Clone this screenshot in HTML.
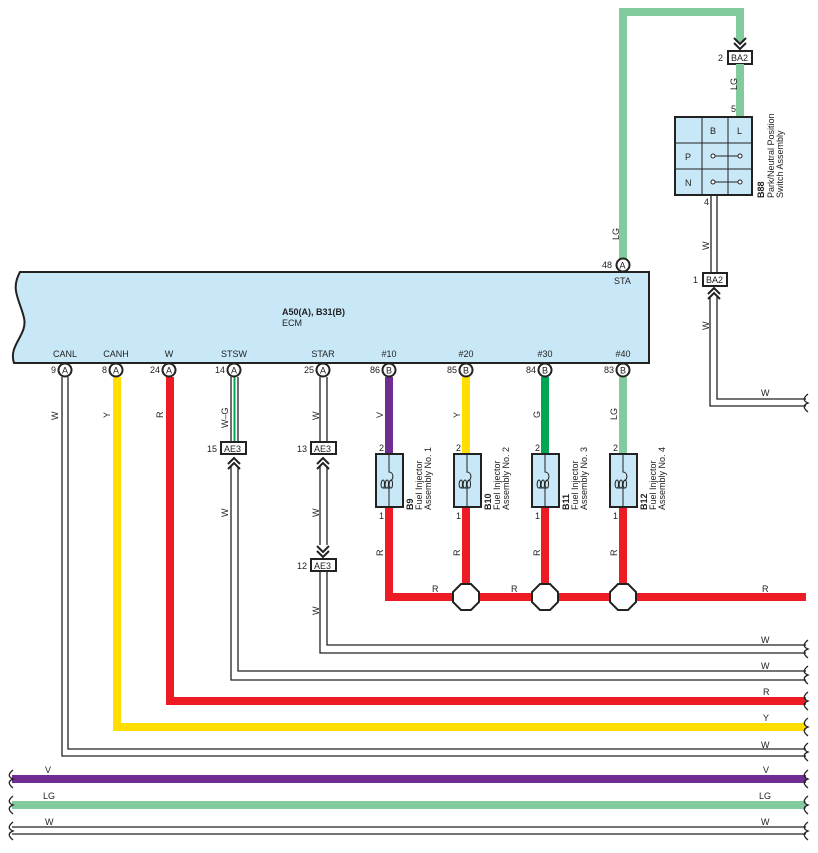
<!DOCTYPE html>
<html><head><meta charset="utf-8"><style>
html,body{margin:0;padding:0;background:#fff;}
svg{display:block;font-family:"Liberation Sans",Arial,sans-serif;}
text{font-size:9px;fill:#222;}
</style></head><body>
<svg width="818" height="853" viewBox="0 0 818 853" xmlns="http://www.w3.org/2000/svg">
<defs>
<g id="chevU"><polyline points="-6,6 0,0 6,6" fill="none" stroke="#222" stroke-width="2"/><polyline points="-6,11 0,5 6,11" fill="none" stroke="#222" stroke-width="2"/></g>
<g id="chevD"><polyline points="-6,-6 0,0 6,-6" fill="none" stroke="#222" stroke-width="2"/><polyline points="-6,-11 0,-5 6,-11" fill="none" stroke="#222" stroke-width="2"/></g>
<g id="brace"><path d="M0,-9 C-5,-5 -5,-2 0,0 C-5,2 -5,5 0,9" fill="none" stroke="#222" stroke-width="1.3"/></g>
<g id="inj"><rect x="-13" y="0" width="27" height="53" fill="#c8e8f8" stroke="#222" stroke-width="2"/>
<path d="M0,0 V18 C5,18 5,26 1,27 M0,35 V53" fill="none" stroke="#222" stroke-width="1"/>
<path d="M-6,34 C-9,34 -8,26 -6,26 C-4,26 -4,34 -6,34 M-6,34 L-2,34 C-5,34 -4,26 -2,26 C0,26 0,34 -2,34 L2,34 C-1,34 0,26 2,26 C4,26 4,34 2,34 L0,34 V35" fill="none" stroke="#222" stroke-width="1"/>
</g>
</defs>

<!-- top LG wire -->
<path d="M623,262 V12 H740 V42" fill="none" stroke="#82cb9c" stroke-width="8"/>
<use href="#chevD" x="740" y="49"/>
<rect x="728" y="51" width="24" height="13" fill="#fff" stroke="#222" stroke-width="2"/>
<text x="731" y="61">BA2</text><text x="718" y="61">2</text>
<path d="M740,64 V117" stroke="#82cb9c" stroke-width="8"/>
<text transform="translate(737,90) rotate(-90)">LG</text>
<text x="731" y="112">5</text>
<text transform="translate(619,240) rotate(-90)">LG</text>

<!-- switch -->
<rect x="675" y="117" width="77" height="78" fill="#c8e8f8" stroke="#222" stroke-width="2"/>
<path d="M702,117V195M728,117V195M675,143H752M675,169H752" stroke="#222" stroke-width="1"/>
<text x="710" y="134">B</text><text x="737" y="134">L</text><text x="685" y="160">P</text><text x="685" y="186">N</text>
<path d="M713,156H740M713,182H740" stroke="#222"/>
<circle cx="713" cy="156" r="2" fill="#fff" stroke="#222"/><circle cx="740" cy="156" r="2" fill="#fff" stroke="#222"/>
<circle cx="713" cy="182" r="2" fill="#fff" stroke="#222"/><circle cx="740" cy="182" r="2" fill="#fff" stroke="#222"/>
<text transform="translate(764,198) rotate(-90)" font-weight="bold">B88</text>
<text transform="translate(774,198) rotate(-90)">Park/Neutral Position</text>
<text transform="translate(783,198) rotate(-90)">Switch Assembly</text>
<path d="M711,195V273M717,195V273" stroke="#222" stroke-width="1.3"/>
<text x="704" y="205">4</text>
<text transform="translate(709,250) rotate(-90)">W</text>
<rect x="703" y="273" width="24" height="13" fill="#fff" stroke="#222" stroke-width="2"/>
<text x="706" y="283">BA2</text><text x="693" y="283">1</text>
<use href="#chevU" x="714" y="288"/>
<path d="M710,296V406H806M717,296V399H806" fill="none" stroke="#222" stroke-width="1.3"/>
<text transform="translate(709,330) rotate(-90)">W</text>
<text x="761" y="396">W</text>

<!-- ECM -->
<path d="M20,272 H649 V363 H14 C8,345 28,335 24,318 C20,300 10,290 20,272 Z" fill="#c8e8f8" stroke="#222" stroke-width="2"/>
<text x="282" y="315" font-weight="bold">A50(A), B31(B)</text>
<text x="282" y="326">ECM</text>
<text x="614" y="284">STA</text>
<circle cx="623" cy="265" r="6.5" fill="#fff" stroke="#222" stroke-width="2"/><text x="619.5" y="268.5">A</text><text x="602" y="268">48</text>
<g text-anchor="middle">
<text x="65" y="357">CANL</text><text x="116" y="357">CANH</text><text x="169" y="357">W</text><text x="234" y="357">STSW</text><text x="323" y="357">STAR</text><text x="389" y="357">#10</text><text x="466" y="357">#20</text><text x="545" y="357">#30</text><text x="623" y="357">#40</text>
</g>

<!-- bottom wires -->
<path d="M62,377V756H806M68,377V749H806" fill="none" stroke="#222" stroke-width="1.3"/>
<path d="M117,377V727H806" fill="none" stroke="#ffde00" stroke-width="8"/>
<path d="M170,377V701H806" fill="none" stroke="#ed1c24" stroke-width="8"/>
<path d="M231,377V442M238,377V442" stroke="#222" stroke-width="1.3"/><path d="M234.5,377V442" stroke="#00a651" stroke-width="2"/>
<path d="M231,466V680H806M238,466V671H806" fill="none" stroke="#222" stroke-width="1.3"/>
<path d="M320,377V442M327,377V442M320,466V545M327,466V545" stroke="#222" stroke-width="1.3"/>
<path d="M320,571V653H806M327,571V645H806" fill="none" stroke="#222" stroke-width="1.3"/>
<rect x="221" y="442" width="25" height="12" fill="#fff" stroke="#222" stroke-width="2"/><text x="224" y="452">AE3</text><text x="207" y="452">15</text>
<use href="#chevU" x="234" y="458"/>
<rect x="311" y="442" width="25" height="12" fill="#fff" stroke="#222" stroke-width="2"/><text x="314" y="452">AE3</text><text x="297" y="452">13</text>
<use href="#chevU" x="323" y="458"/>
<use href="#chevD" x="323" y="557"/>
<rect x="311" y="559" width="25" height="12" fill="#fff" stroke="#222" stroke-width="2"/><text x="314" y="569">AE3</text><text x="297" y="569">12</text>

<g>
<text transform="translate(58,420) rotate(-90)">W</text>
<text transform="translate(110,418) rotate(-90)">Y</text>
<text transform="translate(163,418) rotate(-90)">R</text>
<text transform="translate(228,428) rotate(-90)">W–G</text>
<text transform="translate(228,517) rotate(-90)">W</text>
<text transform="translate(319,420) rotate(-90)">W</text>
<text transform="translate(319,517) rotate(-90)">W</text>
<text transform="translate(319,615) rotate(-90)">W</text>
<text transform="translate(383,418) rotate(-90)">V</text>
<text transform="translate(460,418) rotate(-90)">Y</text>
<text transform="translate(540,418) rotate(-90)">G</text>
<text transform="translate(617,420) rotate(-90)">LG</text>
<text transform="translate(383,556) rotate(-90)">R</text>
<text transform="translate(460,556) rotate(-90)">R</text>
<text transform="translate(540,556) rotate(-90)">R</text>
<text transform="translate(617,556) rotate(-90)">R</text>
</g>

<!-- injectors -->
<path d="M389,377V454" stroke="#6f2c91" stroke-width="8"/>
<path d="M466,377V454" stroke="#ffde00" stroke-width="8"/>
<path d="M545,377V454" stroke="#00a651" stroke-width="8"/>
<path d="M623,377V454" stroke="#82cb9c" stroke-width="8"/>
<path d="M389,507V597H806M466,507V597M545,507V597M623,507V597" fill="none" stroke="#ed1c24" stroke-width="8"/>
<use href="#inj" x="389" y="454"/><use href="#inj" x="467" y="454"/><use href="#inj" x="545" y="454"/><use href="#inj" x="623" y="454"/>
<g>
<text x="379" y="451">2</text><text x="379" y="519">1</text>
<text x="456" y="451">2</text><text x="456" y="519">1</text>
<text x="535" y="451">2</text><text x="535" y="519">1</text>
<text x="613" y="451">2</text><text x="613" y="519">1</text>
</g>
<text transform="translate(413,510) rotate(-90)" font-weight="bold">B9</text>
<text transform="translate(422,510) rotate(-90)">Fuel Injector</text>
<text transform="translate(431,510) rotate(-90)">Assembly No. 1</text>
<text transform="translate(491,510) rotate(-90)" font-weight="bold">B10</text>
<text transform="translate(500,510) rotate(-90)">Fuel Injector</text>
<text transform="translate(509,510) rotate(-90)">Assembly No. 2</text>
<text transform="translate(569,510) rotate(-90)" font-weight="bold">B11</text>
<text transform="translate(578,510) rotate(-90)">Fuel Injector</text>
<text transform="translate(587,510) rotate(-90)">Assembly No. 3</text>
<text transform="translate(647,510) rotate(-90)" font-weight="bold">B12</text>
<text transform="translate(656,510) rotate(-90)">Fuel Injector</text>
<text transform="translate(665,510) rotate(-90)">Assembly No. 4</text>
<g fill="#fff" stroke="#222" stroke-width="2">
<polygon points="461,584 471,584 479,592 479,602 471,610 461,610 453,602 453,592"/>
<polygon points="540,584 550,584 558,592 558,602 550,610 540,610 532,602 532,592"/>
<polygon points="618,584 628,584 636,592 636,602 628,610 618,610 610,602 610,592"/>
</g>
<text x="432" y="592">R</text><text x="511" y="592">R</text><text x="762" y="592">R</text>

<!-- pins -->
<g fill="#fff" stroke="#222" stroke-width="2">
<circle cx="65" cy="370" r="6.5"/><circle cx="116" cy="370" r="6.5"/><circle cx="169" cy="370" r="6.5"/><circle cx="234" cy="370" r="6.5"/><circle cx="323" cy="370" r="6.5"/><circle cx="389" cy="370" r="6.5"/><circle cx="466" cy="370" r="6.5"/><circle cx="545" cy="370" r="6.5"/><circle cx="623" cy="370" r="6.5"/>
</g>
<g text-anchor="middle">
<text x="65" y="373.5">A</text><text x="116" y="373.5">A</text><text x="169" y="373.5">A</text><text x="234" y="373.5">A</text><text x="323" y="373.5">A</text><text x="389" y="373.5">B</text><text x="466" y="373.5">B</text><text x="545" y="373.5">B</text><text x="623" y="373.5">B</text>
</g>
<g text-anchor="end">
<text x="56" y="373">9</text><text x="107" y="373">8</text><text x="160" y="373">24</text><text x="225" y="373">14</text><text x="314" y="373">25</text><text x="380" y="373">86</text><text x="457" y="373">85</text><text x="536" y="373">84</text><text x="614" y="373">83</text>
</g>

<!-- bottom bus -->
<path d="M12,779H806" stroke="#6f2c91" stroke-width="8"/>
<path d="M12,805H806" stroke="#82cb9c" stroke-width="8"/>
<path d="M12,827H806M12,834H806" stroke="#222" stroke-width="1.3"/>
<text x="761" y="643">W</text><text x="761" y="669">W</text><text x="763" y="695">R</text><text x="763" y="721">Y</text><text x="761" y="748">W</text>
<text x="763" y="773">V</text><text x="759" y="799">LG</text><text x="761" y="825">W</text>
<text x="45" y="773">V</text><text x="43" y="799">LG</text><text x="45" y="825">W</text>
<g>
<use href="#brace" x="808" y="403"/><use href="#brace" x="808" y="649"/><use href="#brace" x="808" y="675"/><use href="#brace" x="808" y="701"/><use href="#brace" x="808" y="727"/><use href="#brace" x="808" y="752"/><use href="#brace" x="808" y="779"/><use href="#brace" x="808" y="805"/><use href="#brace" x="808" y="831"/>
<use href="#brace" x="13" y="779"/><use href="#brace" x="13" y="805"/><use href="#brace" x="13" y="831"/>
</g>
</svg>
</body></html>
